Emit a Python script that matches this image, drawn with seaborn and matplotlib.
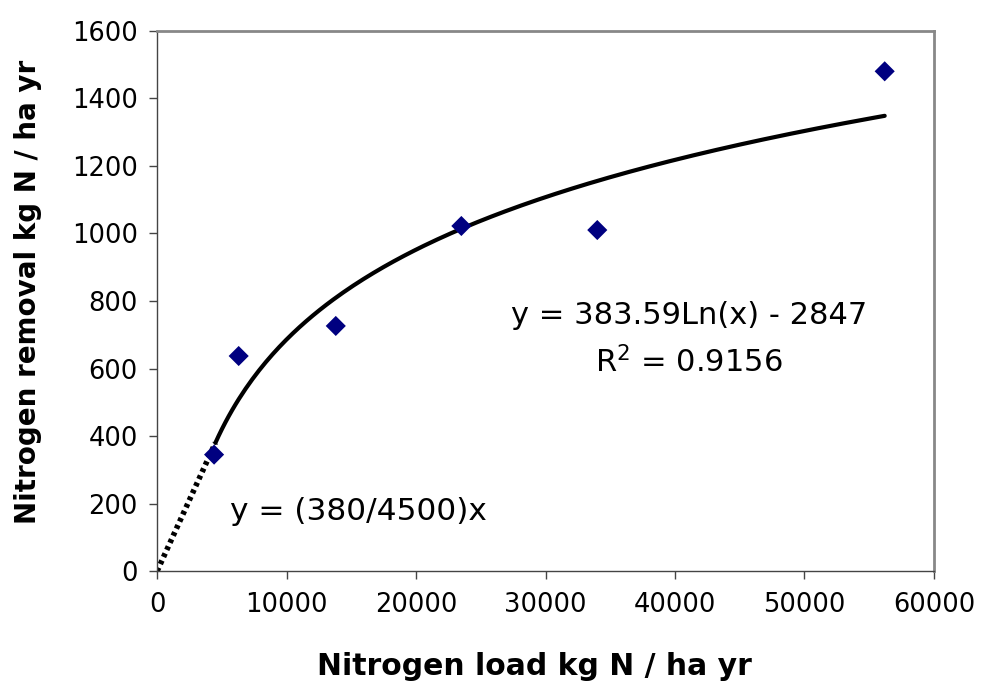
import numpy as np
import pandas as pd
import matplotlib
matplotlib.use('Agg')
import matplotlib.pyplot as plt
import seaborn as sns

sns.set_style('white')
plt.rcParams['font.family'] = ['DejaVu Sans']
plt.rcParams['text.color'] = 'black'
plt.rcParams['axes.labelcolor'] = 'black'
plt.rcParams['xtick.color'] = 'black'
plt.rcParams['ytick.color'] = 'black'

# measured points: nitrogen load vs removal
n_load = [4400, 6300, 13800, 23500, 34000, 56200]
n_removal = [345, 637, 726, 1022, 1010, 1480]

# log trendline coefficients as printed on the chart
fit_a = 383.59
fit_b = -2847
fit_start = 4500

# linear segment y = (380/4500)x from origin
lin_x = [0, 4500]
lin_y = [0, 380]

df = pd.DataFrame({'load': n_load, 'removal': n_removal})

fig = plt.figure(figsize=(9.82, 6.84), dpi=100)
ax = fig.add_axes([0.160, 0.165, 0.791, 0.790])

# trendline over the range of the data
xs = np.linspace(fit_start, max(n_load), 200)
trend = pd.DataFrame({'load': xs, 'removal': fit_a * np.log(xs) + fit_b})
sns.lineplot(data=trend, x='load', y='removal', ax=ax, color='black', lw=3)
ax.plot(lin_x, lin_y, color='black', lw=4, linestyle=(0, (0.7, 0.7)))

sns.scatterplot(data=df, x='load', y='removal', ax=ax, marker='D', s=105,
                color='#000080', edgecolor='none', zorder=5)

ax.set_xlim(0, 60000)
ax.set_ylim(0, 1600)
ax.set_xticks(range(0, 60001, 10000))
ax.set_yticks(range(0, 1601, 200))
ax.tick_params(axis='both', labelsize=18.5, direction='out', length=6, width=1,
               color='#444444', bottom=True, left=True)
ax.tick_params(axis='x', pad=9)
ax.tick_params(axis='y', pad=8)

for side in ['top', 'right']:
    ax.spines[side].set_color('#888888')
    ax.spines[side].set_linewidth(2)
for side in ['left', 'bottom']:
    ax.spines[side].set_color('#444444')
    ax.spines[side].set_linewidth(1)

ax.set_xlabel('Nitrogen load kg N / ha yr', fontsize=21.5, fontweight='bold', va='center')
ax.set_ylabel('Nitrogen removal kg N / ha yr', fontsize=20, fontweight='bold', va='center')
ax.xaxis.set_label_coords(0.486, -0.176)
ax.yaxis.set_label_coords(-0.166, 0.517)

ax.text(0.685, 0.474, 'y = 383.59Ln(x) - 2847', transform=ax.transAxes,
        fontsize=22, ha='center', va='center')
ax.text(0.685, 0.387, '$\\mathregular{R^2}$ = 0.9156', transform=ax.transAxes,
        fontsize=22, ha='center', va='center')
ax.text(0.094, 0.11, 'y = (380/4500)x', transform=ax.transAxes, fontsize=22.5,
        ha='left', va='center')

fig.savefig('out.png', dpi=100)
